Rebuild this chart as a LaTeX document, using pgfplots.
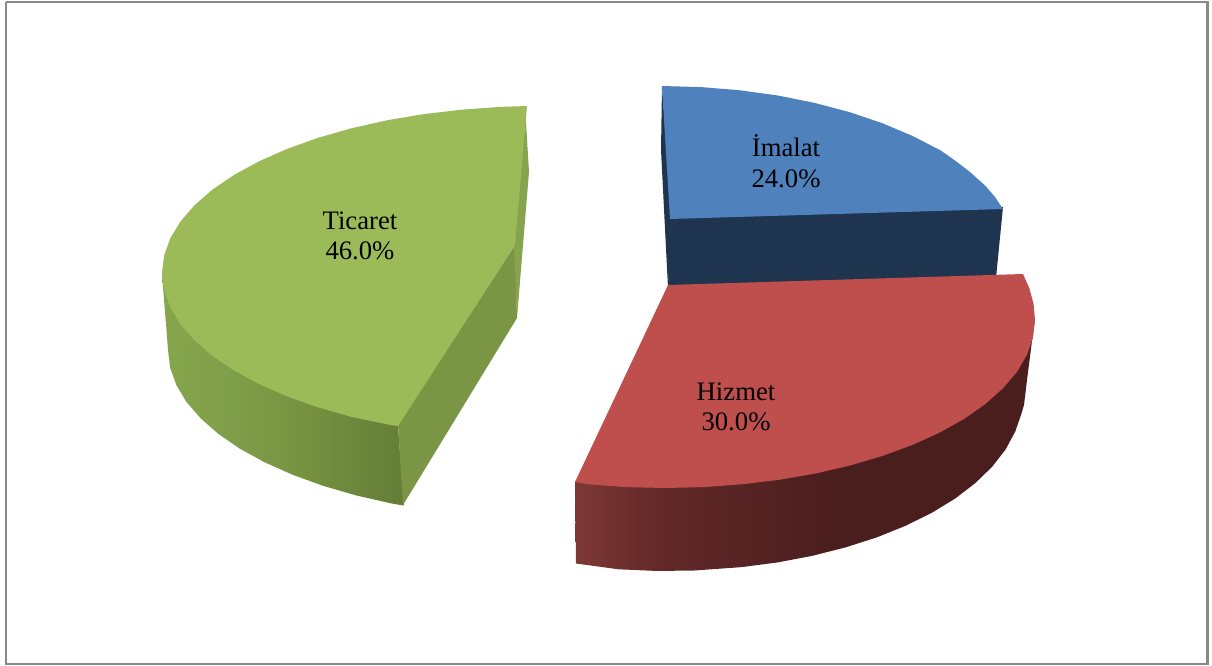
\documentclass[border=0pt]{standalone}
\usepackage{fontspec}
\setmainfont{Liberation Serif}
\usepackage{pgfplots}
\usepackage{pgfplotstable}
\pgfplotsset{compat=1.18}

\definecolor{frame}{HTML}{898989}
\definecolor{blueTop}{HTML}{4F81BD}
\definecolor{blueSide}{HTML}{1F344F}
\definecolor{redTop}{HTML}{BE4F4C}
\definecolor{greenTop}{HTML}{9BBB59}
\definecolor{greenCut}{HTML}{7A9645}
\definecolor{greenCutB}{HTML}{86A44D}

% Rim gradients of the two slices that show a curved wall
\pgfdeclarehorizontalshading{redrim}{100bp}{
  rgb(0bp)=(0.49,0.22,0.21); rgb(25bp)=(0.49,0.22,0.21);
  rgb(34bp)=(0.39,0.16,0.16); rgb(52bp)=(0.295,0.118,0.118);
  rgb(75bp)=(0.295,0.118,0.118); rgb(100bp)=(0.295,0.118,0.118)}
\pgfdeclarehorizontalshading{greenrim}{100bp}{
  rgb(0bp)=(0.525,0.65,0.30); rgb(25bp)=(0.525,0.65,0.30);
  rgb(40bp)=(0.50,0.62,0.285); rgb(55bp)=(0.46,0.57,0.25);
  rgb(75bp)=(0.39,0.49,0.22); rgb(100bp)=(0.39,0.49,0.22)}

% Outlines of the slices, in picture units
\pgfplotstableread{
x y
670 219
662 86
701.2 87.1
740 90.3
777.9 95.5
814.5 102.9
849.5 112.1
882.4 123.2
912.9 136.1
940.7 150.5
955 160.5
970 172
985 185.5
995 197
1003 209
}\blueTopFace
\pgfplotstableread{
x y
668 285
1023 274
1029.4 288.4
1033.6 304.1
1035 320
1033 337.6
1026.9 354.9
1016.9 371.9
1003 388.3
985.4 404
964.3 418.8
940 432.4
912.6 444.8
882.5 455.9
850 465.5
815.5 473.5
779.3 479.8
741.9 484.3
703.7 487.1
665 488
626.3 487.1
588.1 484.3
575 482
}\redTopFace
\pgfplotstableread{
x y
575 482
576 563.5
618.6 569.3
655.6 570.9
692.8 570.6
741.8 567.1
777.7 562.4
812.4 555.8
845.5 547.4
876.7 537.4
905.5 525.8
931.8 512.8
955.2 498.5
975.4 483
992.3 466.6
1005.6 449.4
1015.2 431.6
1021 415
1024 405
1027 380
1033 333
1035 320
}\redWall
\pgfplotstableread{
x y
515 245
527 106
500.5 106.9
461.4 109.7
423.2 114.2
386.3 120.4
351 128.4
317.8 137.9
287.1 148.9
259.1 161.3
234.2 174.8
212.6 189.5
194.7 205.1
180.5 221.4
170.3 238.3
164.1 255.5
162 273
164.1 290.3
170.3 307.5
180.5 324.3
194.7 340.5
212.6 356
234.2 370.6
259.1 384.1
287.1 396.4
317.8 407.3
351 416.8
392.3 425.4
398 426
}\greenTopFace
\pgfplotstableread{
x y
398 426
162 273
164 300
166.5 330
168 350
170.1 367.6
176.3 384.9
186.4 401.9
200.6 418.3
218.5 434
240 448.8
264.9 462.4
292.7 474.8
323.4 485.9
356.5 495.5
391.7 503.5
403.8 505.5
}\greenWall

\begin{document}
\begin{tikzpicture}
\begin{axis}[
  scale only axis, width=1212pt, height=666pt,
  xmin=0, xmax=1212, ymin=0, ymax=666, y dir=reverse,
  hide axis, clip=false,
  every axis plot/.append style={no marks, forget plot},
]
% Page extent
\addplot[draw=none] coordinates {(0,0) (1212,666)};

% Blue slice: walls, then top face
\addplot[fill=blueSide, draw=none] coordinates {(662,86) (661,150) (668,288) (672,219)};
\addplot[fill=blueSide, draw=none] coordinates {(670,217) (1003,207) (996,278) (668,288)};
\addplot[fill=blueTop, draw=none] table {\blueTopFace};

% Red slice: curved wall, then top face
\addplot[shading=redrim, draw=none] table {\redWall};
\addplot[fill=redTop, draw=none] table {\redTopFace};

% Green slice: curved wall, cut faces, then top face
\addplot[shading=greenrim, draw=none] table {\greenWall};
\addplot[fill=greenCut, draw=none] coordinates {(398,425) (515,245) (517,318) (403,505)};
\addplot[fill=greenCutB, draw=none] coordinates {(525,106) (529,172) (517,318) (514,245)};
\addplot[fill=greenTop, draw=none] table {\greenTopFace};

% Outer frame
\addplot[draw=frame, line width=2.4pt, line join=miter] coordinates {(6,2) (1207.5,2) (1207.5,664) (6,664) (6,2)};

% Slice labels
\begin{scope}[every node/.style={align=center, inner sep=0pt, font=\fontsize{26.7}{30.5}\selectfont, text=black}]
\node at (axis cs:786,161) {İmalat\\24.0\%};
\node at (axis cs:736,407) {Hizmet\\30.0\%};
\node at (axis cs:360,236) {Ticaret\\46.0\%};
\end{scope}
\end{axis}
\end{tikzpicture}
\end{document}
